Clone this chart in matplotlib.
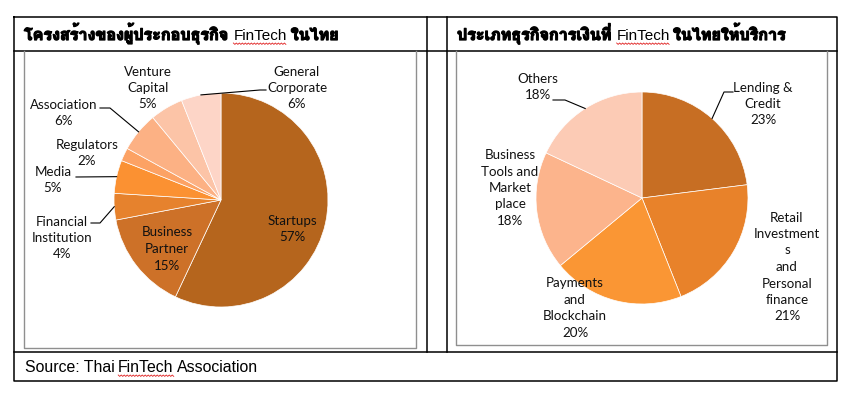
import numpy as np
import matplotlib
matplotlib.use("Agg")
import matplotlib.pyplot as plt
import matplotlib.patheffects as pe
from matplotlib import font_manager
from matplotlib.ft2font import FT2Font

W, H = 845, 395

# --- data -----------------------------------------------------------------
left_title = ["โครงสร้างของผู้ประกอบธุรกิจ", "FinTech", "ในไทย"]
left_labels = ["Startups", "Business\nPartner", "Financial\nInstitution", "Media",
               "Regulators", "Association", "Venture\nCapital", "General\nCorporate"]
left_values = [57, 15, 4, 5, 2, 6, 5, 6]

right_title = ["ประเภทธุรกิจการเงินที่", "FinTech", "ในไทยให้บริการ"]
right_labels = ["Lending &\nCredit", "Retail\nInvestment\ns\nand\nPersonal\nfinance",
                "Payments\nand\nBlockchain", "Business\nTools and\nMarket\nplace", "Others"]
right_values = [23, 21, 20, 18, 18]

source = ["Source: Thai", "FinTech", "Association"]

# --- styles / layout ------------------------------------------------------
left_colors = ["#B5651D", "#CD7128", "#E6822D", "#FB9132",
               "#FCA264", "#FCB184", "#FCC4A7", "#FDD5C7"]
right_colors = ["#C76E23", "#E8822A", "#FA9634", "#FCB48C", "#FCCBB5"]

# pie centre and radius in pixels
left_pie = (221, 200, 107)
right_pie = (642, 198, 106)

# label centres (px) and leader lines (elbow, end) or None
left_pos = [(292, 229), (167, 249), (62, 238), (53, 180),
            (87, 153), (64, 113), (148, 88), (297, 88)]
left_lead = [None, None, [(100, 223), (91, 223)], [(76, 177)],
             None, [(110, 108), (100, 108)], None, [(260, 90), (266, 90)]]
right_pos = [(763, 104), (787, 267), (575, 308), (510, 188), (538, 87)]
right_lead = [[(724, 92), (733, 92)], None, None, None, [(565, 100), (553, 100)]]

LABEL_FONT = "Lato"
LABEL_SIZE = 9.6

# find a font with Thai glyphs, if any
thai_font = None
for f in font_manager.fontManager.ttflist:
    try:
        if FT2Font(f.fname).get_char_index(ord("ก")):
            thai_font = f.name
            if "bold" in f.fname.lower():
                break
    except Exception:
        pass
thai_family = [thai_font, "DejaVu Sans"] if thai_font else ["DejaVu Sans"]

fig = plt.figure(figsize=(W / 100, H / 100), dpi=100)


def pie_axes(cx, cy, r):
    return fig.add_axes([(cx - r) / W, (H - cy - r) / H, 2 * r / W, 2 * r / H])


ax_l = pie_axes(*left_pie)
ax_r = pie_axes(*right_pie)

# overlay in pixel coordinates, on top of the pies
ax0 = fig.add_axes([0, 0, 1, 1])
ax0.set_xlim(0, W)
ax0.set_ylim(H, 0)
ax0.axis("off")
ax0.set_zorder(10)


def draw_pie(ax, values, labels, colors, pie, pos, lead):
    cx, cy, r = pie
    wedges, _ = ax.pie(values, colors=colors, startangle=90, counterclock=False,
                       wedgeprops=dict(edgecolor="white", linewidth=0.5))
    ax.set_xlim(-1, 1)
    ax.set_ylim(-1, 1)
    for w, lab, v, (tx, ty), ld in zip(wedges, labels, values, pos, lead):
        ax0.text(tx, ty, f"{lab}\n{v}%", ha="center", va="center",
                 fontsize=LABEL_SIZE, family=LABEL_FONT, linespacing=1.45,
                 color="#111111")
        if ld:
            mid = np.deg2rad((w.theta1 + w.theta2) / 2)
            pts = [(cx + r * np.cos(mid), cy - r * np.sin(mid))] + ld
            xs, ys = zip(*pts)
            ax0.plot(xs, ys, color="black", lw=0.8)


draw_pie(ax_l, left_values, left_labels, left_colors, left_pie, left_pos, left_lead)
draw_pie(ax_r, right_values, right_labels, right_colors, right_pie, right_pos, right_lead)

# --- table lines ----------------------------------------------------------
blk = dict(color="black", lw=1.1, solid_capstyle="projecting")
ax0.plot([14, 837, 837, 14, 14], [17, 17, 381, 381, 17], **blk)
ax0.plot([14, 837], [51, 51], **blk)
ax0.plot([14, 837], [352, 352], **blk)
ax0.plot([427, 427], [17, 352], **blk)
ax0.plot([447, 447], [17, 352], **blk)
gry = dict(color="#8f8f8f", lw=1.0)
ax0.plot([24, 24, 416, 416], [51, 348, 348, 51], **gry)
ax0.plot([456, 456, 827, 827], [51, 345, 345, 51], **gry)

renderer = fig.canvas.get_renderer()
heavy = [pe.withStroke(linewidth=0.9, foreground="black")]


def wavy(x0, x1, y):
    xs = np.arange(x0, x1 + 0.1, 1.5)
    ys = y + np.where(np.arange(len(xs)) % 2 == 0, 0.0, 1.4)
    ax0.plot(xs, ys, color="#e02020", lw=0.6)


def runs(x, y, parts, fams, sizes, weights, gaps, effects):
    for s, fam, sz, wt, g, fx in zip(parts, fams, sizes, weights, gaps, effects):
        t = ax0.text(x, y, s, ha="left", va="baseline", family=fam,
                     fontsize=sz, fontweight=wt, color="black", path_effects=fx)
        bb = t.get_window_extent(renderer=renderer)
        if s == "FinTech":
            wavy(x, x + bb.width, y + 3)
        x += bb.width + g


runs(24, 40, left_title, [thai_family, "Liberation Sans", thai_family],
     [11.6, 11.0, 11.6], ["bold", "normal", "bold"], [5, 4, 0], [heavy, [], heavy])
runs(457, 40, right_title, [thai_family, "Liberation Sans", thai_family],
     [11.6, 11.0, 11.6], ["bold", "normal", "bold"], [5, 3, 0], [heavy, [], heavy])
runs(25, 372, source, ["Liberation Sans"] * 3, [11.4] * 3, ["normal"] * 3,
     [3.5] * 3, [[]] * 3)

fig.savefig("out.png", dpi=100)
